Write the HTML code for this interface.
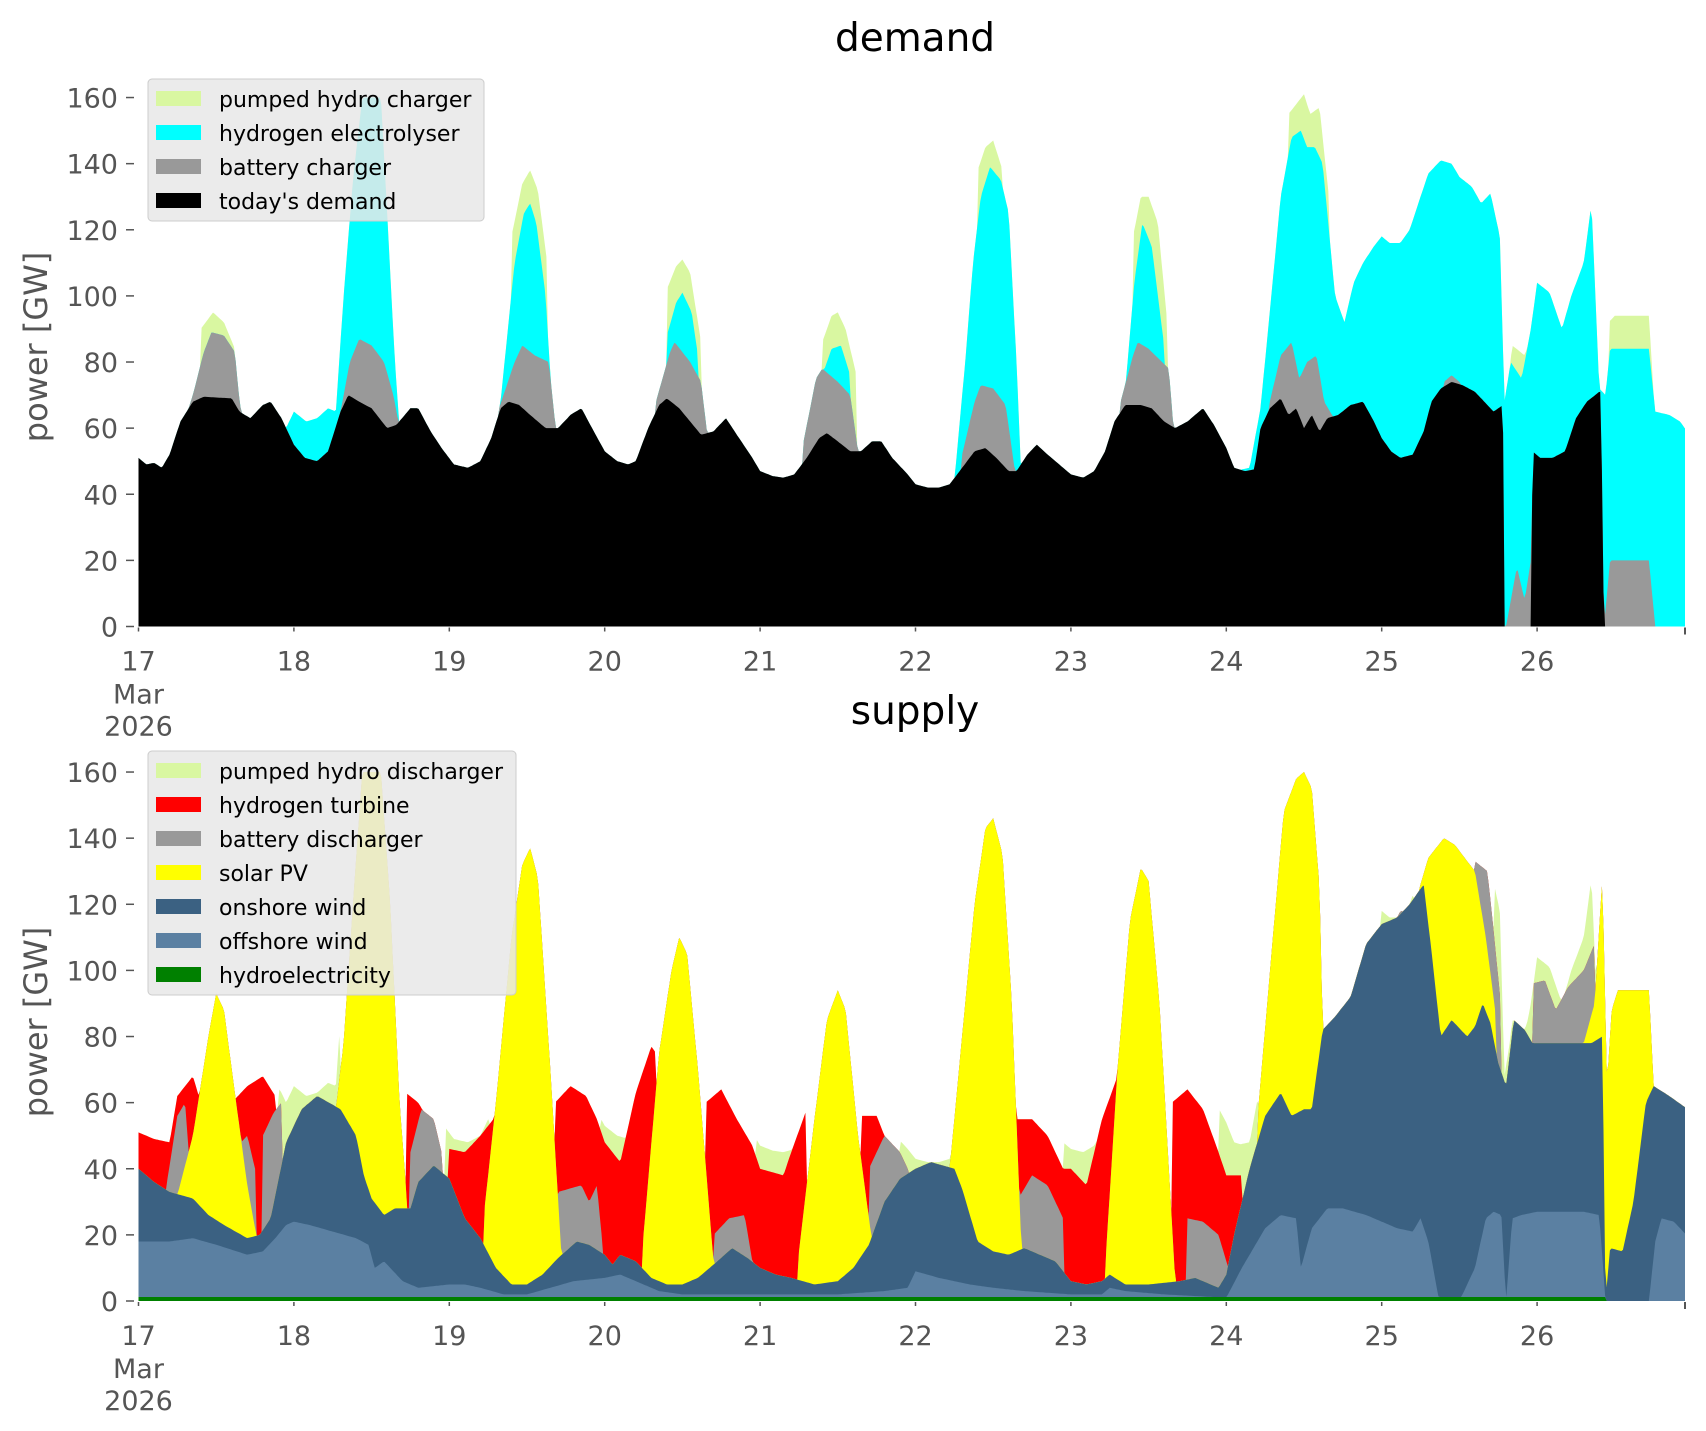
<!DOCTYPE html>
<html><head><meta charset="utf-8">
<style>
html,body{margin:0;padding:0;background:#fff;}
svg{display:block;font-family:"DejaVu Sans","Liberation Sans",sans-serif;}
</style></head>
<body>
<svg id="s" width="1706" height="1431" viewBox="0 0 1706 1431" xmlns="http://www.w3.org/2000/svg">
<rect width="1706" height="1431" fill="#fff"/>
<defs>
<clipPath id="c1"><rect x="138.5" y="60" width="1546.5" height="567"/></clipPath>
<clipPath id="c2"><rect x="138.5" y="735" width="1546.5" height="567"/></clipPath>
</defs>
<g id="p1" clip-path="url(#c1)"></g>
<g id="p2" clip-path="url(#c2)"></g>
<g id="axes" fill="#555" font-size="27"></g>
<text x="915" y="51" font-size="39" text-anchor="middle" fill="#000">demand</text>
<text x="915" y="724" font-size="39" text-anchor="middle" fill="#000">supply</text>
<text transform="translate(47,347) rotate(-90)" font-size="32" text-anchor="middle" fill="#555">power [GW]</text>
<text transform="translate(47,1022) rotate(-90)" font-size="32" text-anchor="middle" fill="#555">power [GW]</text>
<g id="leg" font-size="22" fill="#000"></g>
</svg>
<script>
const NS="http://www.w3.org/2000/svg";
const X=d=>138.5+(d-17)*155.4;
function interp(pts,d){ if(d<pts[0][0]||d>pts[pts.length-1][0]) return 0;
 for(let i=0;i<pts.length-1;i++){const a=pts[i],b=pts[i+1]; if(d>=a[0]&&d<=b[0]){ if(b[0]==a[0])return b[1]; return a[1]+(b[1]-a[1])*(d-a[0])/(b[0]-a[0]);}} return 0;}
function bumps(list){return d=>{let m=0;for(const p of list){m=Math.max(m,interp(p,d));}return m;};}
const STEP=1/48; const days=[]; for(let d=17;d<=26.99;d+=STEP/2) days.push(+d.toFixed(5));
function poly(g,fn,base,color){
 let s=`${X(17)},${base} `;
 for(const d of days){ s+=`${X(d).toFixed(1)},${(base-fn(d)*3.306).toFixed(1)} `;}
 s+=`${X(days[days.length-1])},${base}`;
 const p=document.createElementNS(NS,"polygon"); p.setAttribute("points",s); p.setAttribute("fill",color); g.appendChild(p);}
// Demand
const Dp=[[17,51],[17.05,49],[17.1,49.5],[17.15,48],[17.2,52],[17.27,62],[17.35,68],[17.42,69.5],[17.6,69],[17.65,65],[17.72,63],[17.8,67],[17.85,68],[17.92,63],[18.0,55],[18.07,51],[18.15,50],[18.22,53],[18.3,65],[18.35,70],[18.42,68],[18.5,66],[18.6,60],[18.66,61],[18.75,66],[18.8,66],[18.88,59],[18.95,54],[19.03,49],[19.12,48],[19.2,50],[19.27,57],[19.33,66],[19.38,68],[19.45,67],[19.52,64],[19.62,60],[19.7,60],[19.78,64],[19.85,66],[19.93,59],[20.0,53],[20.08,50],[20.15,49],[20.2,50],[20.28,60],[20.35,67],[20.4,69],[20.48,66],[20.55,62],[20.62,58],[20.7,59],[20.78,63],[20.85,58],[20.95,51],[21.0,47],[21.08,45.5],[21.15,45],[21.22,46],[21.3,51],[21.38,57],[21.43,58.5],[21.5,56],[21.58,53],[21.65,53],[21.72,56],[21.78,56],[21.85,51],[21.95,46],[22.0,43],[22.08,42],[22.15,42],[22.22,43],[22.3,48],[22.38,53],[22.45,54],[22.52,51],[22.6,47],[22.65,47],[22.72,52],[22.78,55],[22.85,52],[22.95,48],[23.0,46],[23.08,45],[23.15,47],[23.22,53],[23.28,62],[23.35,67],[23.45,67],[23.52,66],[23.6,62],[23.67,60],[23.75,62],[23.85,66],[23.92,61],[24.0,54],[24.05,48],[24.12,47],[24.18,47.5],[24.22,60],[24.28,66],[24.35,69],[24.4,64],[24.45,66],[24.5,60],[24.55,64],[24.6,59],[24.65,63],[24.72,64],[24.8,67],[24.88,68],[24.95,62],[25.0,57],[25.06,53],[25.12,51],[25.2,52],[25.27,59],[25.32,68],[25.38,72],[25.45,74],[25.52,73],[25.6,71],[25.68,67],[25.72,65],[25.78,67],[25.79,0],[25.965,0],[25.97,53],[26.02,51],[26.1,51],[26.18,53],[26.25,63],[26.32,68],[26.4,71],[26.41,71],[26.43,0],[27,0]];
const Df=d=>interp(Dp,d);
const gB=bumps([
[[17.28,60],[17.35,70],[17.42,83],[17.47,89],[17.55,88],[17.62,83],[17.65,68],[17.68,60]],
[[18.28,60],[18.36,80],[18.42,87],[18.5,85],[18.58,80],[18.64,70],[18.68,60]],
[[19.32,66],[19.42,80],[19.47,85],[19.55,82],[19.64,80],[19.68,62]],
[[20.33,68],[20.42,83],[20.45,86],[20.55,80],[20.62,74],[20.66,58]],
[[21.28,56],[21.36,75],[21.4,78],[21.5,74],[21.58,70],[21.63,53]],
[[22.3,52],[22.38,68],[22.42,73],[22.5,72],[22.58,67],[22.64,47]],
[[23.32,68],[23.4,82],[23.43,86],[23.5,84],[23.63,78],[23.66,60]],
[[24.28,68],[24.35,82],[24.42,86],[24.47,75],[24.52,80],[24.58,82],[24.63,68],[24.68,64]],
[[25.4,74],[25.45,76],[25.5,74]],
[[25.8,0],[25.87,18],[25.92,8],[25.96,20],[25.97,0]],
[[26.43,0],[26.47,20],[26.72,20],[26.76,0]]]);
const Bf=d=>Math.max(Df(d),gB(d));
const gC=bumps([
[[17.93,58],[18.0,65],[18.08,62],[18.15,63],[18.22,66],[18.27,65],[18.32,100],[18.38,135],[18.44,160],[18.56,160],[18.6,125],[18.65,80],[18.68,60]],
[[19.33,68],[19.42,110],[19.48,125],[19.52,128],[19.56,122],[19.62,100],[19.67,60]],
[[20.4,88],[20.46,98],[20.5,101],[20.56,95],[20.6,82]],
[[21.4,76],[21.46,84],[21.52,85],[21.58,76]],
[[22.25,44],[22.32,80],[22.37,110],[22.42,130],[22.48,139],[22.55,135],[22.6,125],[22.65,80],[22.68,46]],
[[23.35,72],[23.41,105],[23.46,122],[23.52,115],[23.6,85]],
[[24.05,47],[24.15,48],[24.22,66],[24.3,105],[24.35,130],[24.42,148],[24.48,150],[24.52,145],[24.57,145],[24.62,140],[24.66,120],[24.7,100],[24.76,92],[24.82,104],[24.88,110],[24.95,115],[25.0,118],[25.05,116],[25.12,116],[25.18,120],[25.25,130],[25.3,137],[25.38,141],[25.45,140],[25.5,136],[25.58,133],[25.64,128],[25.7,131],[25.76,118],[25.79,68],[25.83,80],[25.9,75],[25.96,90],[26.0,104],[26.08,101],[26.16,90],[26.22,100],[26.3,110],[26.35,128],[26.4,72],[26.44,70],[26.47,84],[26.72,84],[26.76,65],[26.85,64],[26.92,62],[26.98,58]]]);
const Cf=d=>Math.max(Bf(d),gC(d));
const gP=bumps([
[[17.4,90],[17.48,95],[17.55,92],[17.62,84]],
[[19.4,118],[19.47,134],[19.52,138],[19.57,132],[19.63,110]],
[[20.4,102],[20.46,109],[20.5,111],[20.55,107],[20.62,86]],
[[21.4,86],[21.46,94],[21.5,95],[21.55,90],[21.62,76]],
[[22.4,138],[22.45,145],[22.5,147],[22.56,138]],
[[23.4,118],[23.45,130],[23.5,130],[23.56,122],[23.62,92]],
[[24.4,155],[24.45,158],[24.5,161],[24.54,155],[24.6,157],[24.66,130]],
[[25.8,68],[25.84,85],[25.92,82],[25.96,88]],
[[26.46,92],[26.5,94],[26.72,94],[26.75,70]]]);
const Pf=d=>Math.max(Cf(d),gP(d));
const g1=document.getElementById("p1");
poly(g1,Pf,626.5,"#d9f7a1");poly(g1,Cf,626.5,"#00ffff");poly(g1,Bf,626.5,"#999999");poly(g1,Df,626.5,"#000000");
// Supply
const Hf=d=>d<26.44?1.2:0;
const Op=[[17,18],[17.2,18],[17.35,19],[17.5,17],[17.7,14],[17.8,15],[17.88,19],[17.95,23],[18.0,24],[18.1,23],[18.25,21],[18.4,19],[18.48,17],[18.52,10],[18.58,12],[18.7,6],[18.8,4],[19.0,5],[19.1,5],[19.2,4],[19.35,2],[19.5,2],[19.65,4],[19.8,6],[20.0,7],[20.1,8],[20.2,6],[20.35,3],[20.5,2],[21.5,2],[21.8,3],[21.95,4],[22.0,9],[22.15,7],[22.35,5],[22.5,4],[22.7,3],[23.0,2],[23.2,2],[23.25,4],[23.35,3],[23.6,2],[24.0,1],[24.1,10],[24.25,22],[24.35,26],[24.45,25],[24.48,10],[24.55,22],[24.65,28],[24.75,28],[24.9,26],[25.0,24],[25.1,22],[25.2,21],[25.25,25],[25.3,18],[25.37,0],[25.5,0],[25.6,10],[25.67,25],[25.72,27],[25.77,26],[25.8,0],[25.84,25],[25.9,26],[26.0,27],[26.3,27],[26.4,26],[26.44,0],[26.72,0],[26.76,18],[26.8,25],[26.88,24],[26.96,20],[27,20]];
const Of=d=>Math.max(Hf(d),interp(Op,d));
const Wp=[[17,40],[17.1,36],[17.2,33],[17.35,31],[17.45,26],[17.55,23],[17.7,19],[17.78,20],[17.85,25],[17.95,48],[18.05,58],[18.15,62],[18.3,58],[18.4,50],[18.45,38],[18.5,31],[18.58,26],[18.65,28],[18.75,28],[18.8,36],[18.9,41],[19.0,37],[19.1,25],[19.2,19],[19.3,10],[19.4,5],[19.5,5],[19.6,8],[19.7,13],[19.82,18],[19.9,17],[20.0,14],[20.05,11],[20.1,14],[20.2,12],[20.3,7],[20.4,5],[20.5,5],[20.6,7],[20.7,11],[20.82,16],[20.92,13],[21.0,10],[21.1,8],[21.2,7],[21.35,5],[21.5,6],[21.6,10],[21.7,17],[21.8,30],[21.9,37],[22.0,40],[22.1,42],[22.25,40],[22.3,34],[22.4,18],[22.5,15],[22.6,14],[22.7,16],[22.8,14],[22.9,12],[23.0,6],[23.1,5],[23.2,6],[23.25,8],[23.35,5],[23.5,5],[23.7,6],[23.8,7],[23.85,6],[23.95,4],[24.0,8],[24.05,20],[24.15,40],[24.25,56],[24.35,63],[24.42,56],[24.5,58],[24.55,58],[24.62,82],[24.7,86],[24.8,92],[24.9,108],[25.0,114],[25.1,116],[25.18,120],[25.27,126],[25.32,106],[25.38,80],[25.45,85],[25.55,80],[25.6,83],[25.65,90],[25.7,84],[25.75,72],[25.8,65],[25.85,85],[25.92,82],[25.97,78],[26.2,78],[26.35,78],[26.42,80],[26.44,0],[26.47,16],[26.55,15],[26.62,30],[26.7,60],[26.75,65],[26.85,62],[26.97,58],[27,58]];
const Wf=d=>Math.max(Of(d),interp(Wp,d));
const gS=bumps([
[[17.25,32],[17.35,50],[17.45,80],[17.5,93],[17.55,88],[17.6,70],[17.7,35],[17.75,22]],
[[18.25,50],[18.32,78],[18.38,120],[18.44,160],[18.56,160],[18.62,120],[18.68,60],[18.72,35]],
[[19.22,25],[19.3,60],[19.4,110],[19.47,132],[19.52,137],[19.57,128],[19.65,70],[19.72,15]],
[[20.25,20],[20.35,75],[20.43,100],[20.48,110],[20.53,105],[20.6,70],[20.7,12]],
[[21.25,15],[21.35,55],[21.43,85],[21.5,94],[21.55,88],[21.63,50],[21.72,18]],
[[22.2,30],[22.3,80],[22.38,120],[22.45,143],[22.5,146],[22.56,135],[22.62,90],[22.68,18]],
[[23.22,10],[23.3,70],[23.38,115],[23.45,131],[23.5,127],[23.57,90],[23.67,7]],
[[24.2,55],[24.3,110],[24.37,148],[24.45,158],[24.5,160],[24.55,155],[24.6,125],[24.62,82]],
[[25.25,126],[25.3,134],[25.4,140],[25.47,138],[25.55,133],[25.6,130],[25.67,110],[25.73,88]],
[[26.3,78],[26.37,90],[26.42,128],[26.45,65],[26.48,88],[26.52,94],[26.72,94],[26.75,65]]]);
const Sf=d=>Math.max(Wf(d),gS(d));
const gG=bumps([
[[17.18,35],[17.25,56],[17.3,60],[17.33,40]],
[[17.6,45],[17.7,50],[17.75,40]],[[17.8,50],[17.87,57],[17.92,60]],
[[18.75,45],[18.82,58],[18.9,55],[18.95,45]],
[[19.7,33],[19.85,35],[19.9,30],[19.95,35],[19.98,20]],
[[20.7,20],[20.8,25],[20.9,26],[20.95,12]],
[[21.7,40],[21.8,50],[21.9,45],[21.95,40]],
[[22.65,30],[22.75,38],[22.85,35],[22.95,25]],
[[23.75,25],[23.85,24],[23.95,20],[24.0,12]],
[[25.08,114],[25.12,118],[25.2,117]],
[[25.6,133],[25.68,130],[25.72,112],[25.77,88]],
[[25.97,96],[26.05,97],[26.12,88],[26.2,95],[26.3,100],[26.37,108]]]);
const Gf=d=>Math.max(Sf(d),gG(d));
const gR=bumps([
[[17.0,51],[17.1,49],[17.2,48],[17.25,62],[17.35,68],[17.4,60]],
[[17.6,60],[17.7,65],[17.8,68],[17.88,62]],
[[18.72,63],[18.8,60],[18.85,56]],
[[19.0,46],[19.1,45],[19.2,50],[19.3,56],[19.35,64]],
[[19.68,60],[19.78,65],[19.88,62],[19.95,55],[20.0,48],[20.1,42],[20.2,63],[20.3,77],[20.33,75]],
[[20.65,60],[20.75,64],[20.85,55],[20.95,47],[21.0,40],[21.15,38],[21.2,45],[21.3,58]],
[[21.65,56],[21.75,56],[21.8,50]],
[[22.62,55],[22.75,55],[22.85,50],[22.95,40],[23.0,40],[23.1,35],[23.2,55],[23.3,68]],
[[23.65,60],[23.75,64],[23.85,58],[23.95,45],[24.0,38],[24.1,38]]]);
const Rf=d=>Math.max(Gf(d),gR(d));
const PW=[[17.9,18.3],[18.97,19.25],[19.97,20.22],[20.97,21.25],[21.9,22.25],[22.95,23.22],[23.95,24.2],[25.72,26.4],[25.0,25.2]];
const PSf=d=>{let r=Rf(d);for(const w of PW){if(d>=w[0]&&d<=w[1]){r=Math.max(r,Pf(d));}}return r;};
const g2=document.getElementById("p2");
const B2=1301;
poly(g2,PSf,B2,"#d9f7a1");poly(g2,Rf,B2,"#ff0000");poly(g2,Gf,B2,"#999999");poly(g2,Sf,B2,"#ffff00");poly(g2,Wf,B2,"#3b6182");poly(g2,Of,B2,"#5b80a2");poly(g2,Hf,B2,"#008000");
// axes
const ax=document.getElementById("axes");
function el(tag,attrs,txt){const e=document.createElementNS(NS,tag);for(const k in attrs)e.setAttribute(k,attrs[k]);if(txt!==undefined)e.textContent=txt;ax.appendChild(e);return e;}
for(const base of [626.5,1301]){
 for(let v=0;v<=160;v+=20){const y=base-v*3.306;
  el("line",{x1:126,x2:134,y1:y,y2:y,stroke:"#555","stroke-width":1.5});
  el("text",{x:118,y:y+10,"text-anchor":"end"},String(v));}
 for(let d=17;d<=26;d++){const x=X(d);
  el("line",{x1:x,x2:x,y1:base+1,y2:base+5,stroke:"#555","stroke-width":1.5});
  el("text",{x:x,y:base+44,"text-anchor":"middle"},String(d));}
 el("line",{x1:1685,x2:1685,y1:base+1,y2:base+8,stroke:"#555","stroke-width":2});
 el("text",{x:X(17),y:base+77,"text-anchor":"middle"},"Mar");
 el("text",{x:X(17),y:base+109,"text-anchor":"middle"},"2026");
}
// legends
const lg=document.getElementById("leg");
function legend(x,y,w,items){
 const r=document.createElementNS(NS,"rect");
 Object.entries({x:x,y:y,width:w,height:items.length*34+6,rx:4,fill:"#e8e8e8","fill-opacity":0.85,stroke:"#cccccc","stroke-width":1}).forEach(([k,v])=>r.setAttribute(k,v));lg.appendChild(r);
 items.forEach((it,i)=>{const yy=y+12+i*34;
  const p=document.createElementNS(NS,"rect");
  Object.entries({x:x+8,y:yy,width:45,height:15,fill:it[1]}).forEach(([k,v])=>p.setAttribute(k,v));lg.appendChild(p);
  const t=document.createElementNS(NS,"text");t.setAttribute("x",x+71);t.setAttribute("y",yy+16);t.textContent=it[0];lg.appendChild(t);});
}
legend(148,79,336,[["pumped hydro charger","#d9f7a1"],["hydrogen electrolyser","#00ffff"],["battery charger","#999999"],["today's demand","#000000"]]);
legend(148,751,368,[["pumped hydro discharger","#d9f7a1"],["hydrogen turbine","#ff0000"],["battery discharger","#999999"],["solar PV","#ffff00"],["onshore wind","#3b6182"],["offshore wind","#5b80a2"],["hydroelectricity","#008000"]]);
</script>
</body></html>
